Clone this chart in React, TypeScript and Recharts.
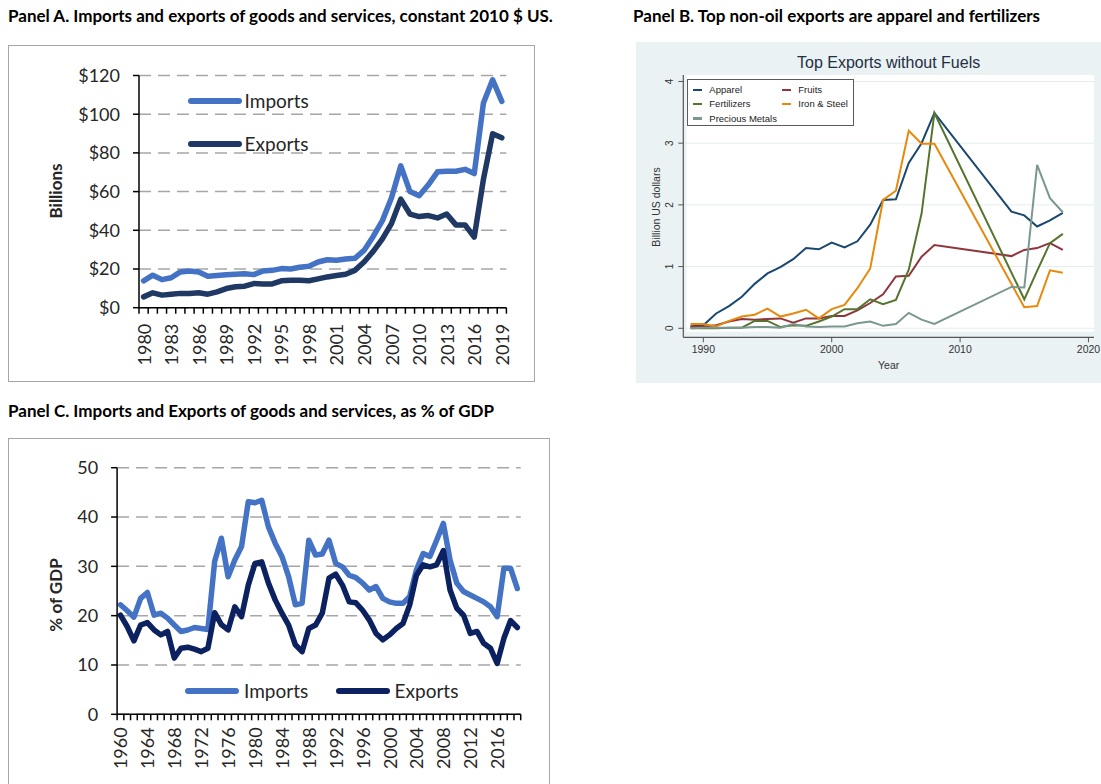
import React from "react";
import {
  LineChart,
  Line,
  XAxis,
  YAxis,
  CartesianGrid,
  Legend,
  ReferenceArea,
  ReferenceLine,
  Label,
} from "recharts";

// ---------- Panel A: imports / exports, constant 2010 $ (billions) ----------
const YEARS_A = [
  1980, 1981, 1982, 1983, 1984, 1985, 1986, 1987, 1988, 1989,
  1990, 1991, 1992, 1993, 1994, 1995, 1996, 1997, 1998, 1999,
  2000, 2001, 2002, 2003, 2004, 2005, 2006, 2007, 2008, 2009,
  2010, 2011, 2012, 2013, 2014, 2015, 2016, 2017, 2018, 2019,
];
const IMPORTS_A = [
  13.9, 16.8, 14.5, 15.5, 18.5, 19, 18.5, 16.3, 16.6, 17,
  17.3, 17.6, 17.1, 19, 19.3, 20.2, 20, 20.9, 21.4, 23.6,
  24.8, 24.5, 25.2, 25.5, 29.6, 36.8, 45, 57, 73.3, 60,
  57.9, 63.5, 70.2, 70.5, 70.5, 71.5, 69.3, 105.8, 117.8, 106.6,
];
const EXPORTS_A = [
  5.6, 7.7, 6.5, 7, 7.4, 7.4, 7.7, 7, 8.2, 9.9,
  10.8, 11.1, 12.5, 12.3, 12.3, 13.9, 14.2, 14.2, 13.9, 14.9,
  15.9, 16.6, 17.3, 19.3, 23.6, 29.1, 35.6, 43.6, 56.1, 48.4,
  47.1, 47.6, 46.4, 48.4, 42.8, 42.8, 36.5, 66.4, 89.9, 87.8,
];
const TICKS_A = [0, 20, 40, 60, 80, 100, 120];

// ---------- Panel B: top non-oil exports (billion US$) ----------
const YEARS_B = [
  1989, 1990, 1991, 1992, 1993, 1994, 1995, 1996, 1997, 1998,
  1999, 2000, 2001, 2002, 2003, 2004, 2005, 2006, 2007, 2008,
  2014, 2015, 2016, 2017, 2018,
];
const APPAREL = [
  0.03, 0.05, 0.24, 0.36, 0.51, 0.72, 0.89, 0.99, 1.12, 1.3,
  1.28, 1.39, 1.31, 1.41, 1.68, 2.08, 2.09, 2.68, 3.0, 3.49,
  1.89, 1.83, 1.65, 1.75, 1.87,
];
const FRUITS = [
  0.03, 0.03, 0.05, 0.11, 0.15, 0.14, 0.15, 0.16, 0.09, 0.16,
  0.16, 0.2, 0.2, 0.29, 0.41, 0.55, 0.84, 0.85, 1.16, 1.35,
  1.17, 1.27, 1.3, 1.38, 1.27,
];
const FERTILIZERS = [
  0.0, 0.0, 0.0, 0.01, 0.01, 0.12, 0.12, 0.02, 0.05, 0.04,
  0.11, 0.19, 0.31, 0.31, 0.47, 0.39, 0.46, 0.95, 1.86, 3.49,
  null, 0.47, 0.93, 1.38, 1.53,
];
const IRON_STEEL = [
  0.07, 0.07, 0.03, 0.12, 0.19, 0.22, 0.32, 0.19, 0.24, 0.3,
  0.16, 0.31, 0.38, 0.65, 0.97, 2.08, 2.23, 3.2, 2.99, 2.99,
  null, 0.34, 0.36, 0.94, 0.9,
];
const PRECIOUS = [
  0.0, 0.01, 0.01, 0.01, 0.01, 0.02, 0.02, 0.01, 0.07, 0.03,
  0.02, 0.03, 0.03, 0.08, 0.11, 0.04, 0.07, 0.25, 0.14, 0.07,
  0.67, 0.66, 2.65, 2.11, 1.88,
];
const TICKS_BX = [1990, 2000, 2010, 2020];
const TICKS_BY = [0, 1, 2, 3, 4];

// ---------- Panel C: imports / exports as % of GDP ----------
const YEARS_C = [
  1960, 1961, 1962, 1963, 1964, 1965, 1966, 1967, 1968, 1969,
  1970, 1971, 1972, 1973, 1974, 1975, 1976, 1977, 1978, 1979,
  1980, 1981, 1982, 1983, 1984, 1985, 1986, 1987, 1988, 1989,
  1990, 1991, 1992, 1993, 1994, 1995, 1996, 1997, 1998, 1999,
  2000, 2001, 2002, 2003, 2004, 2005, 2006, 2007, 2008, 2009,
  2010, 2011, 2012, 2013, 2014, 2015, 2016, 2017, 2018, 2019,
];
const IMPORTS_C = [
  22.2, 21, 19.7, 23.5, 24.7, 20.1, 20.5, 19.5, 18.1, 16.8,
  17.1, 17.6, 17.4, 17.2, 31, 35.7, 27.9, 31.3, 34, 43.1,
  42.9, 43.4, 38, 34.7, 32, 27.9, 22.2, 22.5, 35.3, 32.3,
  32.5, 35.3, 30.6, 29.9, 28.2, 27.7, 26.6, 25.2, 25.9, 23.5,
  22.8, 22.5, 22.5, 23.9, 29.3, 32.6, 32, 35.3, 38.7, 31.3,
  26.6, 24.9, 24.2, 23.5, 22.8, 21.8, 19.8, 29.6, 29.6, 25.5,
];
const EXPORTS_C = [
  20.1, 17.8, 14.9, 18.1, 18.6, 17.1, 16.1, 16.8, 11.4, 13.4,
  13.6, 13.2, 12.7, 13.4, 20.6, 18.2, 17.1, 21.8, 19.8, 26.2,
  30.6, 30.9, 26.6, 23.2, 20.5, 18.1, 14.1, 12.7, 17.4, 18.1,
  20.5, 27.6, 28.4, 26.2, 22.8, 22.6, 21.1, 19.1, 16.4, 15.1,
  16.1, 17.4, 18.4, 22.2, 28.2, 30.3, 29.9, 30.3, 33.2, 25.2,
  21.5, 20.1, 16.4, 16.8, 14.4, 13.4, 10.3, 15.4, 19, 17.6,
];
const TICKS_C = [0, 10, 20, 30, 40, 50];

const dataA = YEARS_A.map((year, i) => ({ year, imports: IMPORTS_A[i], exports: EXPORTS_A[i] }));
const dataC = YEARS_C.map((year, i) => ({ year, imports: IMPORTS_C[i], exports: EXPORTS_C[i] }));
const dataB = YEARS_B.map((year, i) => ({
  year,
  apparel: APPAREL[i],
  fruits: FRUITS[i],
  fertilizers: FERTILIZERS[i],
  iron: IRON_STEEL[i],
  precious: PRECIOUS[i],
}));

const XL_FONT = "Lato, 'Open Sans', sans-serif";
const ST_FONT = "'Liberation Sans', Arial, sans-serif";
const TEXT = "#262626";

// Excel-style category ticks: marks between categories, label every n-th
function makeCatTick(n: number, plotW: number, every: number, gap: number) {
  const bw = plotW / n;
  return (props: any) => {
    const { x, y, index, payload } = props;
    const ay = y - gap;
    return (
      <g>
        <line x1={x - bw / 2} y1={ay} x2={x - bw / 2} y2={ay + 6} stroke="#000" strokeWidth={1.5} />
        {index === n - 1 && (
          <line x1={x + bw / 2} y1={ay} x2={x + bw / 2} y2={ay + 6} stroke="#000" strokeWidth={1.5} />
        )}
        {index % every === 0 && (
          <text
            x={x}
            y={y}
            transform={`rotate(-90, ${x}, ${y})`}
            textAnchor="end"
            dominantBaseline="central"
            fontSize={18}
            fontFamily={XL_FONT}
            fill={TEXT}
          >
            {payload.value}
          </text>
        )}
      </g>
    );
  };
}

interface LegendItem {
  label: string;
  color: string;
  sx: number;
  tx: number;
  y: number;
}

function XlLegend({ items }: { items: LegendItem[] }) {
  return (
    <div style={{ position: "relative", width: "100%", height: "100%" }}>
      {items.map((it) => (
        <React.Fragment key={it.label}>
          <div
            style={{
              position: "absolute",
              left: it.sx,
              top: it.y - 3,
              width: 54,
              height: 6,
              borderRadius: 3,
              background: it.color,
            }}
          />
          <div
            style={{
              position: "absolute",
              left: it.tx,
              top: it.y - 12,
              lineHeight: "24px",
              fontSize: 19,
              fontFamily: XL_FONT,
              color: TEXT,
              whiteSpace: "nowrap",
            }}
          >
            {it.label}
          </div>
        </React.Fragment>
      ))}
    </div>
  );
}

const B_SERIES = [
  { key: "apparel", label: "Apparel", color: "#1a476f" },
  { key: "fruits", label: "Fruits", color: "#90353b" },
  { key: "fertilizers", label: "Fertilizers", color: "#55752f" },
  { key: "iron", label: "Iron & Steel", color: "#e8890c" },
  { key: "precious", label: "Precious Metals", color: "#7a9790" },
];

function StataLegend() {
  const pos = [
    { l: 5, t: 10 },
    { l: 94, t: 10 },
    { l: 5, t: 24 },
    { l: 94, t: 24 },
    { l: 5, t: 38.5 },
  ];
  return (
    <div
      style={{
        position: "relative",
        width: 167,
        height: 47,
        border: "1px solid #5a5a5a",
        background: "#fff",
        boxSizing: "border-box",
      }}
    >
      {B_SERIES.map((s, i) => (
        <React.Fragment key={s.key}>
          <div
            style={{
              position: "absolute",
              left: pos[i].l,
              top: pos[i].t - 1.5,
              width: 9,
              height: 2.5,
              background: s.color,
            }}
          />
          <div
            style={{
              position: "absolute",
              left: pos[i].l + 16,
              top: pos[i].t - 6,
              lineHeight: "12px",
              fontSize: 9.5,
              fontFamily: ST_FONT,
              color: "#222",
              whiteSpace: "nowrap",
            }}
          >
            {s.label}
          </div>
        </React.Fragment>
      ))}
    </div>
  );
}

function Rotated({ text, cx, cy, style }: { text: string; cx: number; cy: number; style: React.CSSProperties }) {
  return (
    <div
      style={{
        position: "absolute",
        left: cx,
        top: cy,
        transform: "translate(-50%, -50%) rotate(-90deg)",
        whiteSpace: "nowrap",
        ...style,
      }}
    >
      {text}
    </div>
  );
}

const titleStyle: React.CSSProperties = {
  position: "absolute",
  fontFamily: XL_FONT,
  fontWeight: 700,
  fontSize: 17,
  lineHeight: "17px",
  color: "#000",
  whiteSpace: "nowrap",
};

// chart geometry
const A_W = 527;
const A_H = 337;
const A_YW = 131;
const A_RIGHT = 28.6;
const A_TOP = 30.5;
const A_XH = 74.3;
const A_PW = A_W - A_YW - A_RIGHT;

const C_W = 542;
const C_H = 360;
const C_YW = 109.1;
const C_RIGHT = 29.3;
const C_TOP = 29.7;
const C_XH = 83.7;
const C_PW = C_W - C_YW - C_RIGHT;

const tickA = makeCatTick(YEARS_A.length, A_PW, 3, 16);
const tickC = makeCatTick(YEARS_C.length, C_PW, 4, 13);

const BYTick = (p: any) => (
  <text
    x={p.x}
    y={p.y}
    transform={`rotate(-90, ${p.x}, ${p.y})`}
    textAnchor="middle"
    fontSize={10}
    fontFamily={ST_FONT}
    fill="#333"
  >
    {p.payload.value}
  </text>
);

export default function App() {
  const bwA = A_PW / YEARS_A.length;
  const bwC = C_PW / YEARS_C.length;

  return (
    <div
      style={{
        position: "absolute",
        left: 0,
        top: 0,
        width: 1101,
        height: 784,
        overflow: "hidden",
        background: "#fff",
      }}
    >
      <div style={{ ...titleStyle, left: 8, top: 6.6 }}>
        Panel A. Imports and exports of goods and services, constant 2010 $ US.
      </div>
      <div style={{ ...titleStyle, left: 633, top: 6.6 }}>
        Panel B. Top non-oil exports are apparel and fertilizers
      </div>
      <div style={{ ...titleStyle, left: 8, top: 401.6 }}>
        Panel C. Imports and Exports of goods and services, as % of GDP
      </div>

      {/* Panel A */}
      <div
        style={{
          position: "absolute",
          left: 8,
          top: 45,
          width: A_W,
          height: A_H,
          border: "1px solid #a6a6a6",
          boxSizing: "border-box",
        }}
      />
      <div style={{ position: "absolute", left: 8, top: 45 }}>
        <LineChart width={A_W} height={A_H} data={dataA} margin={{ top: A_TOP, right: A_RIGHT, left: 0, bottom: 0 }}>
          <CartesianGrid vertical={false} stroke="#a6a6a6" strokeWidth={1.5} strokeDasharray="12 7" />
          <XAxis
            dataKey="year"
            interval={0}
            height={A_XH}
            padding={{ left: bwA / 2, right: bwA / 2 }}
            tickLine={false}
            tickSize={0}
            tickMargin={16}
            tick={tickA}
            axisLine={{ stroke: "#000", strokeWidth: 1.5 }}
          />
          <YAxis
            width={A_YW}
            domain={[0, 120]}
            ticks={TICKS_A}
            tickFormatter={(v: number) => `$${v}`}
            tickSize={6}
            tickMargin={13}
            tick={{ fontSize: 18, fill: TEXT, fontFamily: XL_FONT }}
            tickLine={{ stroke: "#000", strokeWidth: 1.5 }}
            axisLine={{ stroke: "#000", strokeWidth: 1.5 }}
          />
          <Line
            dataKey="imports"
            stroke="#4472c4"
            strokeWidth={5.5}
            strokeLinejoin="round"
            strokeLinecap="round"
            dot={false}
            isAnimationActive={false}
          />
          <Line
            dataKey="exports"
            stroke="#1f3864"
            strokeWidth={5.5}
            strokeLinejoin="round"
            strokeLinecap="round"
            dot={false}
            isAnimationActive={false}
          />
          <Legend
            layout="horizontal"
            verticalAlign="middle"
            align="center"
            wrapperStyle={{ left: 0, top: 0, width: A_W, height: A_H }}
            content={() => (
              <XlLegend
                items={[
                  { label: "Imports", color: "#4472c4", sx: 179.5, tx: 236.6, y: 55.7 },
                  { label: "Exports", color: "#1f3864", sx: 179.5, tx: 236.6, y: 99 },
                ]}
              />
            )}
          />
        </LineChart>
      </div>
      <Rotated
        text="Billions"
        cx={55.4}
        cy={190.7}
        style={{ fontFamily: XL_FONT, fontWeight: 700, fontSize: 17, color: TEXT }}
      />

      {/* Panel B */}
      <div style={{ position: "absolute", left: 636, top: 42, width: 465, height: 341, background: "#eaf2f3" }}>
        <LineChart width={465} height={341} data={dataB} margin={{ top: 33, right: 7, left: 0, bottom: 0 }}>
          <XAxis
            type="number"
            dataKey="year"
            domain={[1988.44, 2020.43]}
            allowDataOverflow
            ticks={TICKS_BX}
            height={45.7}
            tickSize={5}
            tickMargin={3}
            tick={{ fontSize: 10.5, fill: "#333", fontFamily: ST_FONT }}
            tickLine={{ stroke: "#555" }}
            axisLine={{ stroke: "#555", strokeWidth: 1.2 }}
          >
            <Label
              value="Year"
              position="insideBottom"
              offset={14}
              style={{ fontSize: 10.5, fill: "#333", fontFamily: ST_FONT }}
            />
          </XAxis>
          <YAxis
            type="number"
            domain={[-0.146, 4.105]}
            allowDataOverflow
            ticks={TICKS_BY}
            width={47.3}
            tickSize={5}
            tickMargin={5.5}
            tick={BYTick}
            tickLine={{ stroke: "#555" }}
            axisLine={{ stroke: "#555", strokeWidth: 1.2 }}
          />
          <ReferenceArea x1={1988.7} x2={2020.43} y1={-0.055} y2={4.105} fill="#fff" fillOpacity={1} stroke="none" />
          {TICKS_BY.map((v) => (
            <ReferenceLine key={v} y={v} stroke="#e4eced" strokeWidth={1} />
          ))}
          {B_SERIES.map((s) => (
            <Line
              key={s.key}
              type="linear"
              dataKey={s.key}
              stroke={s.color}
              strokeWidth={2}
              connectNulls
              dot={false}
              isAnimationActive={false}
            />
          ))}
          <Legend
            layout="horizontal"
            verticalAlign="middle"
            align="center"
            wrapperStyle={{ left: 51.3, top: 37.3, width: 167, height: 47 }}
            content={() => <StataLegend />}
          />
        </LineChart>
      </div>
      <div
        style={{
          position: "absolute",
          left: 888.6,
          top: 63.3,
          transform: "translate(-50%, -50%)",
          fontFamily: ST_FONT,
          fontSize: 16,
          color: "#1f2f44",
          whiteSpace: "nowrap",
        }}
      >
        Top Exports without Fuels
      </div>
      <Rotated
        text="Billion US dollars"
        cx={655.7}
        cy={207}
        style={{ fontFamily: ST_FONT, fontSize: 10.5, color: "#333" }}
      />

      {/* Panel C */}
      <div
        style={{
          position: "absolute",
          left: 8,
          top: 438,
          width: C_W,
          height: C_H,
          border: "1px solid #a6a6a6",
          boxSizing: "border-box",
        }}
      />
      <div style={{ position: "absolute", left: 8, top: 438 }}>
        <LineChart width={C_W} height={C_H} data={dataC} margin={{ top: C_TOP, right: C_RIGHT, left: 0, bottom: 0 }}>
          <CartesianGrid vertical={false} stroke="#a6a6a6" strokeWidth={1.5} strokeDasharray="12 7" />
          <XAxis
            dataKey="year"
            interval={0}
            height={C_XH}
            padding={{ left: bwC / 2, right: bwC / 2 }}
            tickLine={false}
            tickSize={0}
            tickMargin={13}
            tick={tickC}
            axisLine={{ stroke: "#000", strokeWidth: 1.5 }}
          />
          <YAxis
            width={C_YW}
            domain={[0, 50]}
            ticks={TICKS_C}
            tickSize={6}
            tickMargin={13}
            tick={{ fontSize: 18, fill: TEXT, fontFamily: XL_FONT }}
            tickLine={{ stroke: "#000", strokeWidth: 1.5 }}
            axisLine={{ stroke: "#000", strokeWidth: 1.5 }}
          />
          <Line
            dataKey="imports"
            stroke="#4472c4"
            strokeWidth={5.5}
            strokeLinejoin="round"
            strokeLinecap="round"
            dot={false}
            isAnimationActive={false}
          />
          <Line
            dataKey="exports"
            stroke="#0b2160"
            strokeWidth={5.5}
            strokeLinejoin="round"
            strokeLinecap="round"
            dot={false}
            isAnimationActive={false}
          />
          <Legend
            layout="horizontal"
            verticalAlign="middle"
            align="center"
            wrapperStyle={{ left: 0, top: 0, width: C_W, height: C_H }}
            content={() => (
              <XlLegend
                items={[
                  { label: "Imports", color: "#4472c4", sx: 177, tx: 236, y: 253 },
                  { label: "Exports", color: "#0b2160", sx: 327.7, tx: 386.6, y: 253 },
                ]}
              />
            )}
          />
        </LineChart>
      </div>
      <Rotated
        text="% of GDP"
        cx={55.4}
        cy={595}
        style={{ fontFamily: XL_FONT, fontWeight: 700, fontSize: 17, color: TEXT }}
      />
    </div>
  );
}
